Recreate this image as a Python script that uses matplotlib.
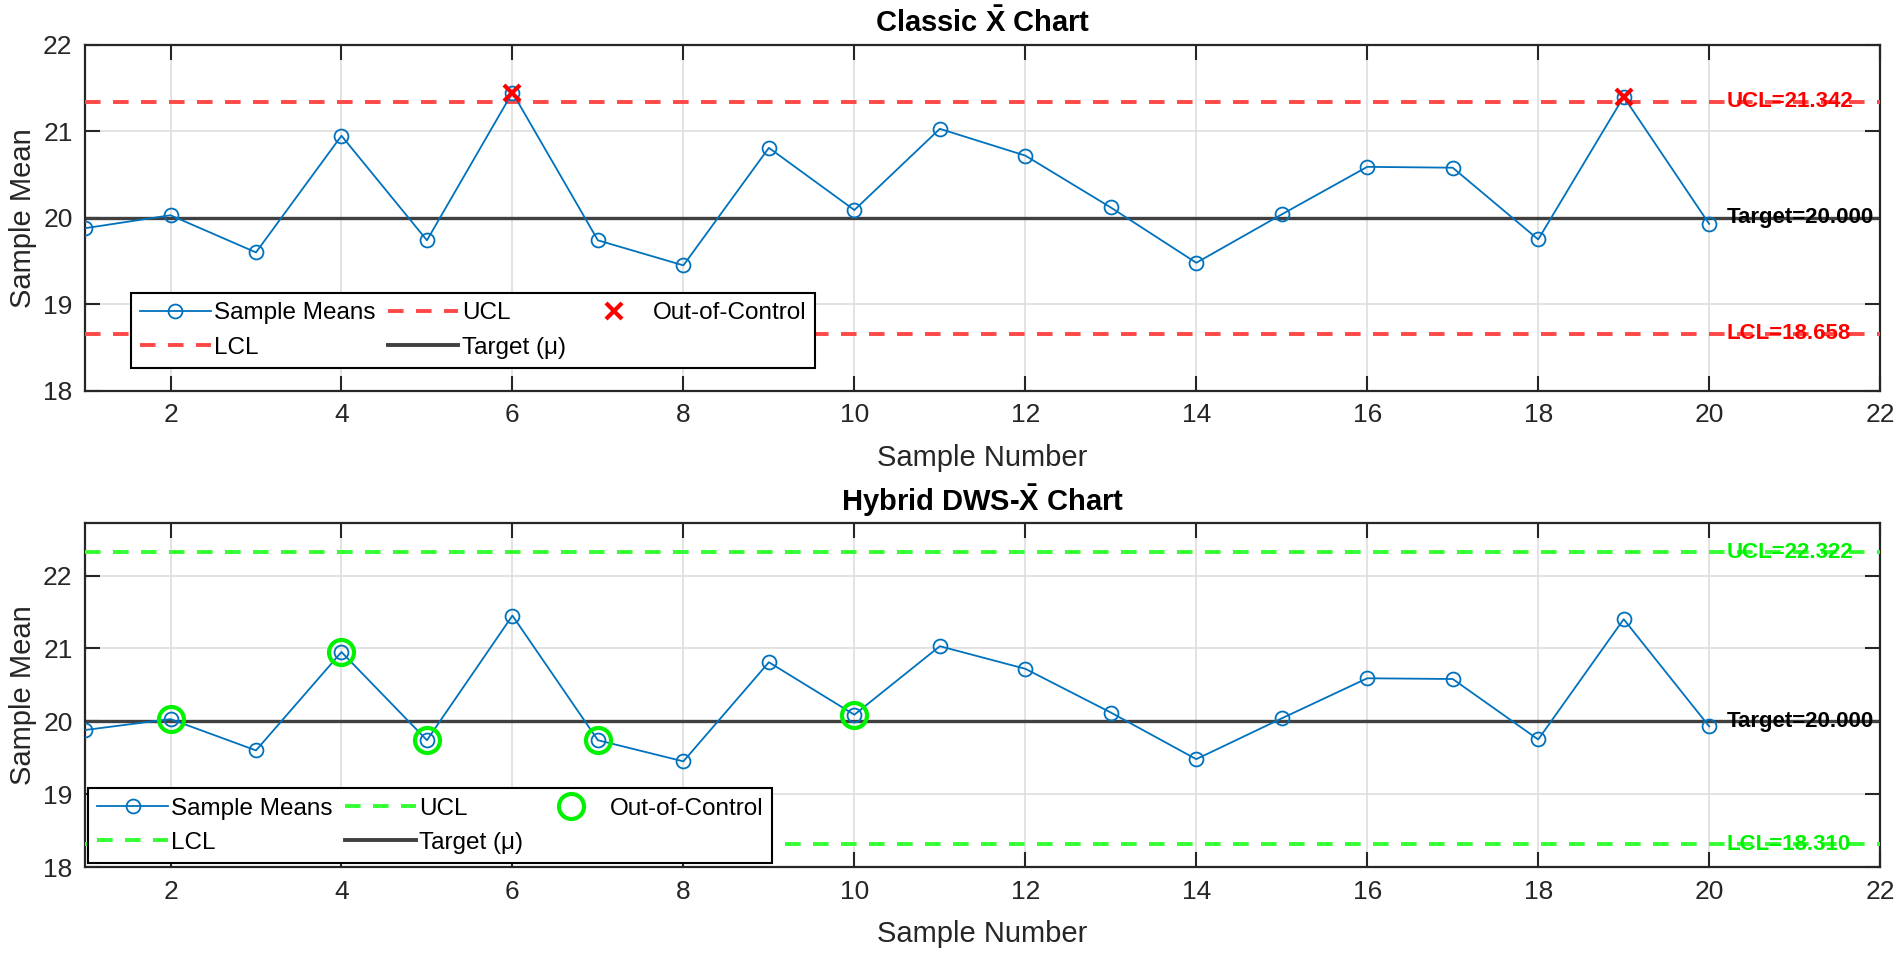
import numpy as np
import matplotlib.pyplot as plt
from matplotlib.lines import Line2D

plt.rcParams['font.family'] = ['Liberation Sans', 'DejaVu Sans']
plt.rcParams['mathtext.fontset'] = 'custom'
plt.rcParams['mathtext.rm'] = 'Liberation Sans'
plt.rcParams['mathtext.bf'] = 'Liberation Sans:bold'

# sample means (same data in both panels)
sample_no = np.arange(1, 21)
sample_means = [19.88, 20.03, 19.60, 20.95, 19.74, 21.45, 19.74, 19.45, 20.81, 20.09,
                21.03, 20.72, 20.12, 19.48, 20.04, 20.59, 20.58, 19.75, 21.40, 19.93]

target = 20.000
classic_ucl = 21.342
classic_lcl = 18.658
hybrid_ucl = 22.322
hybrid_lcl = 18.310

classic_ooc = [6, 19]
hybrid_ooc = [2, 4, 5, 7, 10]

blue = '#0072BD'
red = (1.0, 0.28, 0.28)
green = (0.2, 1.0, 0.2)
target_col = (0.25, 0.25, 0.25)
dash = (4.0, 3.2)


def draw_panel(ax, ucl, lcl, ooc, lim_col, txt_col, ooc_marker, title, ylim, leg_anchor):
    ax.plot(sample_no, sample_means, '-o', color=blue, lw=1.3, ms=10,
            mfc='none', mew=1.3, zorder=4)
    ax.axhline(ucl, color=lim_col, lw=2.8, dashes=dash, zorder=3)
    ax.axhline(lcl, color=lim_col, lw=2.8, dashes=dash, zorder=3)
    ax.axhline(target, color=target_col, lw=2.4, zorder=2)

    idx = [i - 1 for i in ooc]
    if ooc_marker == 'x':
        ax.plot(sample_no[idx], [sample_means[i] for i in idx], 'x', color='red',
                ms=12, mew=3, zorder=5)
        ooc_handle = Line2D([], [], ls='none', marker='x', color='red', ms=12, mew=3)
    else:
        ax.plot(sample_no[idx], [sample_means[i] for i in idx], 'o', color=txt_col,
                mfc='none', ms=18, mew=3, zorder=5)
        ooc_handle = Line2D([], [], ls='none', marker='o', color=txt_col, mfc='none',
                            ms=18, mew=3)

    # limit labels
    tx = 20.2
    ax.text(tx, ucl, 'UCL=%.3f' % ucl, color=txt_col, fontsize=16,
            fontweight='bold', va='center', zorder=6)
    ax.text(tx, target, 'Target=%.3f' % target, color='black', fontsize=16,
            fontweight='bold', va='center', zorder=6)
    ax.text(tx, lcl, 'LCL=%.3f' % lcl, color=txt_col, fontsize=16,
            fontweight='bold', va='center', zorder=6)

    ax.set_xlim(1, 22)
    ax.set_ylim(*ylim)
    ax.set_xticks(np.arange(2, 23, 2))
    ax.set_yticks(np.arange(18, 23, 1))
    ax.grid(True, color='#dedede', lw=1.2)
    ax.set_axisbelow(True)
    ax.tick_params(direction='in', top=True, right=True, length=11, width=1.5,
                   labelsize=19, pad=9, colors='#262626')
    for s in ax.spines.values():
        s.set_linewidth(1.6)
        s.set_color('#262626')
    ax.set_title(title, fontsize=21, fontweight='bold', pad=9)
    ax.set_xlabel('Sample Number', fontsize=21, labelpad=12, color='#262626')
    ax.set_ylabel('Sample Mean', fontsize=21, labelpad=4, color='#262626')

    # legend rows: Sample Means, UCL, Out-of-Control / LCL, Target (mu)
    sm_h = Line2D([], [], color=blue, lw=1.3, marker='o', mfc='none', ms=10, mew=1.3)
    lim_h = Line2D([], [], color=lim_col, lw=2.8, dashes=dash)
    tgt_h = Line2D([], [], color=target_col, lw=2.8)
    handles = [sm_h, lim_h, lim_h, tgt_h, ooc_handle]
    labels = ['Sample Means', 'LCL', 'UCL', 'Target (\u03bc)', 'Out-of-Control']
    leg = ax.legend(handles, labels, ncol=3, loc='lower left', bbox_to_anchor=leg_anchor,
                    borderaxespad=0, fontsize=17.5, frameon=True, fancybox=False,
                    framealpha=1, edgecolor='black', handlelength=2.9,
                    columnspacing=0.5, handletextpad=0.15, borderpad=0.38,
                    labelspacing=0.5)
    leg.get_frame().set_linewidth(1.5)
    leg.set_zorder(10)


fig = plt.figure(figsize=(19.02, 9.59), dpi=100)
ax1 = fig.add_axes([0.0447, 0.5926, 0.9438, 0.3605])
ax2 = fig.add_axes([0.0447, 0.0959, 0.9438, 0.3587])

draw_panel(ax1, classic_ucl, classic_lcl, classic_ooc, red, 'red', 'x',
           r'Classic $\mathbf{\bar{X}}$ Chart', (18, 22), (0.0256, 0.066))
draw_panel(ax2, hybrid_ucl, hybrid_lcl, hybrid_ooc, green, (0.0, 0.95, 0.0), 'o',
           r'Hybrid DWS-$\mathbf{\bar{X}}$ Chart', (18, 22.72), (0.0017, 0.012))

plt.savefig('out.png', dpi=100)
